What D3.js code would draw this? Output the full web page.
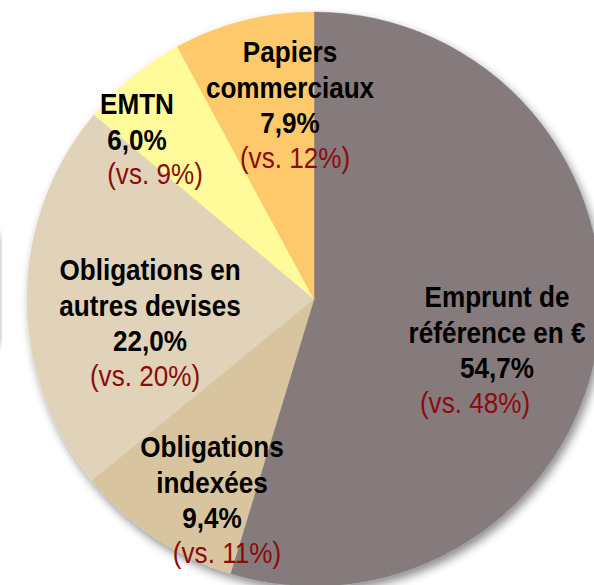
<!DOCTYPE html>
<html>
<head>
<meta charset="utf-8">
<script src="https://cdn.jsdelivr.net/npm/d3@7"></script>
<style>
  body { margin: 0; background: #fff; }
  svg { display: block; }
  text { font-family: "Liberation Sans Narrow", "Liberation Sans", Arial, sans-serif; }
</style>
</head>
<body>
<svg id="chartSVG"></svg>
<script>
// debt mix, share of total (current vs. previous)
let categories = ["Emprunt de référence en €", "Obligations indexées", "Obligations en autres devises", "EMTN", "Papiers commerciaux"];
let shares = [54.7, 9.4, 22.0, 6.0, 7.9];
let previous = [48, 11, 20, 9, 12];
let labelLines = [
  ["Emprunt de", "référence en €"],
  ["Obligations", "indexées"],
  ["Obligations en", "autres devises"],
  ["EMTN"],
  ["Papiers", "commerciaux"]
];

let widthSVG = 594, heightSVG = 585;
let cx = 314, cy = 299, radius = 287;
let colors = ["#857a7b", "#d9c4a0", "#e0d3ba", "#fffb9b", "#fec96b"];

// label anchor (x of centre, y of first baseline) and x of the "(vs.)" line
let labelPos = [
  { x: 497, y: 307, vsx: 475 },
  { x: 212, y: 457, vsx: 227 },
  { x: 150, y: 280, vsx: 145 },
  { x: 137, y: 114, vsx: 155 },
  { x: 290, y: 62,  vsx: 295 }
];
let lineH = 35.5;
let fontSize = 30, squeeze = 0.87;   // narrow face imitation

let SVG = d3.select('svg#chartSVG')
            .attr('width', widthSVG)
            .attr('height', heightSVG);

let defs = SVG.append('defs');
defs.append('filter')
    .attr('id', 'shadow')
    .attr('x', '-10%').attr('y', '-10%')
    .attr('width', '130%').attr('height', '130%')
    .append('feDropShadow')
    .attr('dx', 3).attr('dy', 5)
    .attr('stdDeviation', 5)
    .attr('flood-color', '#000')
    .attr('flood-opacity', 0.45);
defs.append('filter')
    .attr('id', 'blur')
    .append('feGaussianBlur')
    .attr('stdDeviation', 4);

// faint edge of a neighbouring shape on the far left
SVG.append('rect')
   .attr('x', -16).attr('y', 235)
   .attr('width', 16).attr('height', 110)
   .attr('fill', '#b0b0b0')
   .attr('filter', 'url(#blur)');

let data = categories.map((c, i) => ({ name: c, value: shares[i], prev: previous[i], i: i }));

let pie = d3.pie()
            .sort(null)
            .value(d => d.value)
            .startAngle(0)
            .endAngle(2 * Math.PI);

let arc = d3.arc().innerRadius(0).outerRadius(radius);

let pieG = SVG.append('g')
              .attr('transform', `translate(${cx}, ${cy})`)
              .attr('filter', 'url(#shadow)');

pieG.selectAll('path')
    .data(pie(data))
    .enter()
    .append('path')
    .attr('d', arc)
    .attr('fill', d => colors[d.data.i])
    .attr('stroke', d => colors[d.data.i])
    .attr('stroke-width', 0.5);

let fmt = v => d3.format('.1f')(v).replace('.', ',') + '%';

function addText(g, x, y, t, bold, fill) {
  g.append('text')
   .attr('transform', `translate(${x}, ${y}) scale(${squeeze}, 1)`)
   .attr('text-anchor', 'middle')
   .style('font-size', fontSize + 'px')
   .style('font-weight', bold ? 'bold' : 'normal')
   .style('fill', fill)
   .text(t);
}

let labels = SVG.selectAll('g.label')
                .data(data)
                .enter()
                .append('g')
                .classed('label', true);

labels.each(function(d, i) {
  let g = d3.select(this);
  let p = labelPos[i];
  let lines = labelLines[i].concat([fmt(d.value)]);
  lines.forEach((t, k) => addText(g, p.x, p.y + k * lineH, t, true, '#000'));
  addText(g, p.vsx, p.y + lines.length * lineH - 1, `(vs. ${d.prev}%)`, false, '#8b0c0c');
});
</script>
</body>
</html>
